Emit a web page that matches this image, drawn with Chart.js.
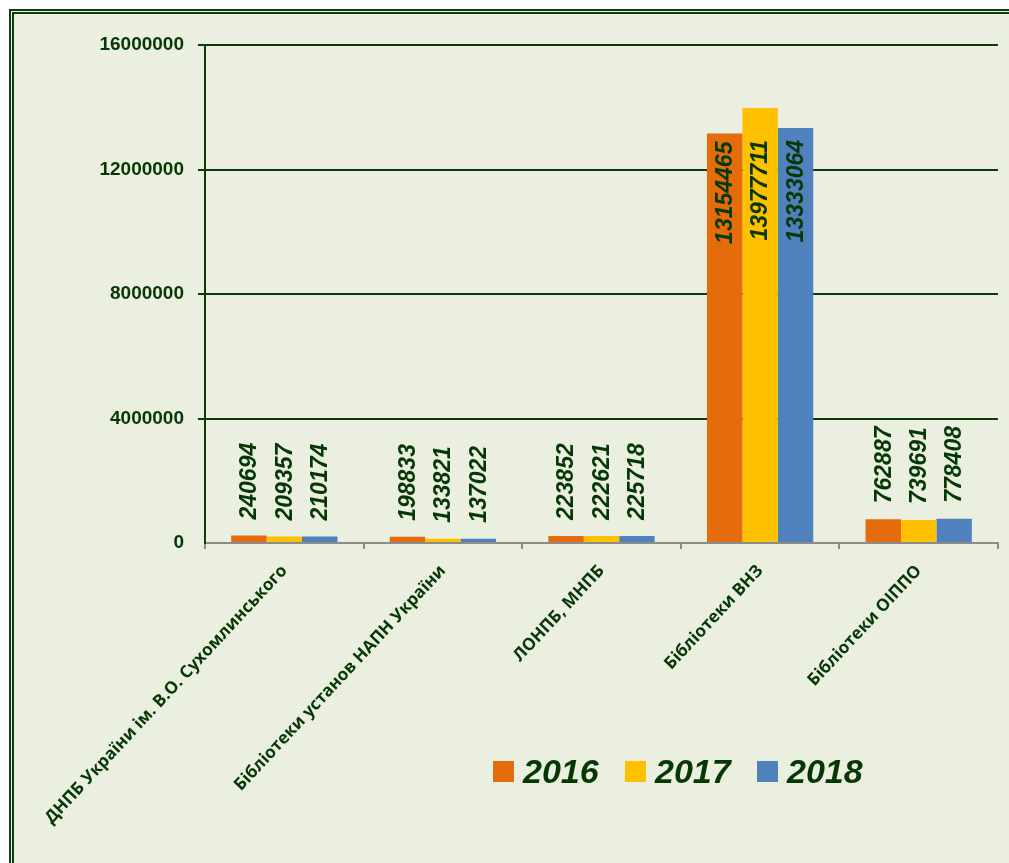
<!DOCTYPE html>
<html>
<head>
<meta charset="utf-8">
<script src="https://cdn.jsdelivr.net/npm/chart.js@4"></script>
<style>
  html, body { margin:0; padding:0; width:1009px; height:863px; overflow:hidden; background:#ffffff; }
  #frame { position:absolute; left:9px; top:9px; width:1020px; height:880px; background:#EBEFDF;
           border-left:5px double #0b3d0b; border-top:5px double #0b3d0b; }
  #wrap { position:absolute; left:0; top:0; width:1009px; height:863px; }
  .leg { position:absolute; top:754px; height:34px; display:flex; align-items:center;
         font-family:"Liberation Sans", Arial, sans-serif; font-weight:bold; font-style:italic;
         font-size:34px; color:#063806; }
  .leg i { display:inline-block; width:21px; height:21px; margin-right:9px; }
</style>
</head>
<body>
<div id="frame"></div>
<div id="wrap"><canvas id="c" width="1009" height="863"></canvas></div>
<div id="legend"></div>
<script>
const categories = [
  "ДНПБ України ім. В.О. Сухомлинського",
  "Бібліотеки установ НАПН України",
  "ЛОНПБ, МНПБ",
  "Бібліотеки ВНЗ",
  "Бібліотеки ОІППО"
];
const seriesNames = ["2016", "2017", "2018"];
const values2016 = [240694, 198833, 223852, 13154465, 762887];
const values2017 = [209357, 133821, 222621, 13977711, 739691];
const values2018 = [210174, 137022, 225718, 13333064, 778408];
const yTicks = [0, 4000000, 8000000, 12000000, 16000000];

const colors = ["#E46C0A", "#FFC000", "#4F81BD"];
const textGreen = "#063806";

const labelPlugin = {
  id: "barLabels",
  afterDatasetsDraw(chart) {
    const ctx = chart.ctx;
    const y = chart.scales.y;
    ctx.save();
    ctx.font = "italic bold 23px 'Liberation Sans', Arial, sans-serif";
    ctx.fillStyle = textGreen;
    ctx.textBaseline = "middle";
    chart.data.datasets.forEach((ds, di) => {
      const meta = chart.getDatasetMeta(di);
      meta.data.forEach((bar, i) => {
        const v = ds.data[i];
        const txt = String(v);
        ctx.save();
        if (v > 5000000) {
          const top = Math.max(bar.y + 8, y.getPixelForValue(12950000));
          ctx.translate(bar.x, top);
          ctx.rotate(-Math.PI / 2);
          ctx.textAlign = "right";
        } else {
          ctx.translate(bar.x, bar.y - 16);
          ctx.rotate(-Math.PI / 2);
          ctx.textAlign = "left";
        }
        ctx.fillText(txt, 0, 1);
        ctx.restore();
      });
    });
    ctx.restore();
  }
};

const datasets = [values2016, values2017, values2018].map((d, k) => ({
  label: seriesNames[k],
  data: d,
  backgroundColor: colors[k],
  borderWidth: 0,
  categoryPercentage: 0.67,
  barPercentage: 1.0
}));

new Chart(document.getElementById("c"), {
  type: "bar",
  data: { labels: categories, datasets },
  options: {
    responsive: false,
    animation: false,
    layout: { autoPadding: false, padding: { top: 45, right: 11, left: 0, bottom: 0 } },
    plugins: { legend: { display: false }, tooltip: { enabled: false } },
    scales: {
      x: {
        grid: { offset: true, drawOnChartArea: false, drawTicks: true, tickLength: 6, color: "#8c8c8c", lineWidth: 2 },
        border: { display: true, color: "#8c8c8c", width: 2 },
        ticks: {
          maxRotation: 47, minRotation: 47, padding: 12, autoSkip: false,
          color: textGreen,
          font: { family: "'Open Sans', 'Liberation Sans', sans-serif", weight: "bold", size: 17 }
        },
        afterFit(s) { s.height = 320; }
      },
      y: {
        min: 0, max: 16000000,
        afterBuildTicks(s) { s.ticks = yTicks.map(v => ({ value: v })); },
        grid: {
          color: (c) => c.tick && c.tick.value === 0 ? "rgba(0,0,0,0)" : "#0b3d0b",
          lineWidth: 2, tickLength: 7, drawTicks: true
        },
        border: { display: true, color: "#0b3d0b", width: 2 },
        ticks: {
          padding: 14, color: textGreen,
          font: { family: "'Liberation Sans', Arial, sans-serif", weight: "bold", size: 19 },
          callback: (v) => String(v)
        },
        afterFit(s) { s.width = 205; }
      }
    }
  },
  plugins: [labelPlugin]
});

const legendDiv = document.getElementById("legend");
const legendLeft = [493, 625, 757];
seriesNames.forEach((n, k) => {
  const el = document.createElement("div");
  el.className = "leg";
  el.style.left = legendLeft[k] + "px";
  el.innerHTML = '<i style="background:' + colors[k] + '"></i><span>' + n + '</span>';
  legendDiv.appendChild(el);
});
</script>
</body>
</html>
